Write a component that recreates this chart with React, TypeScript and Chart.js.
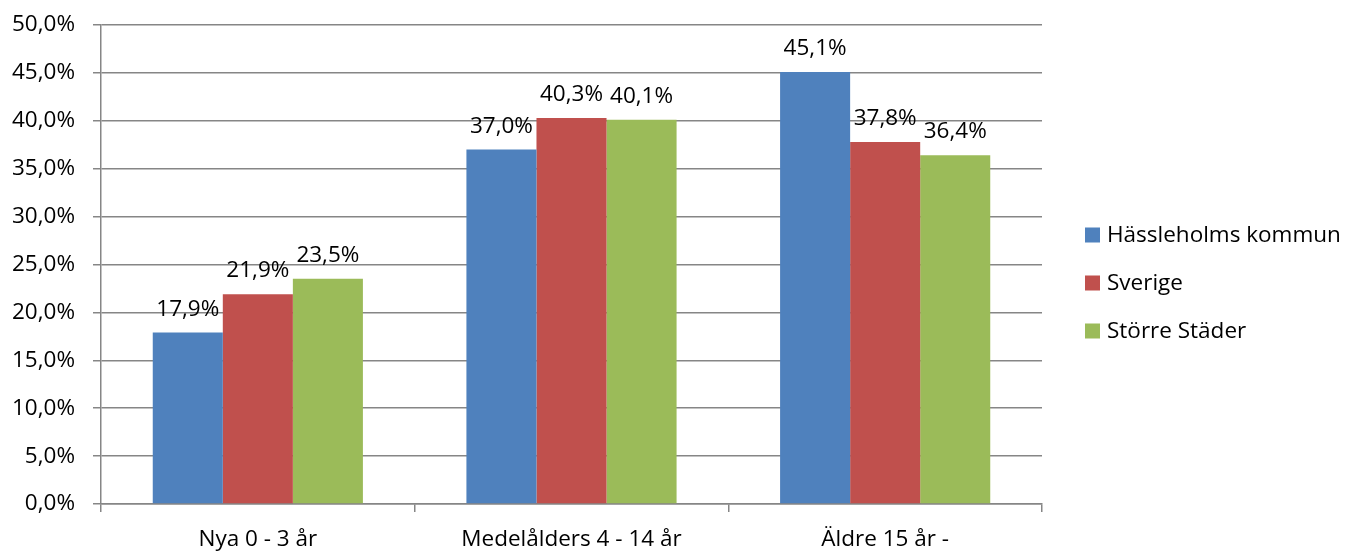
import React, { useEffect, useRef } from "react";
import { Chart, registerables } from "chart.js";

Chart.register(...registerables);

const categories = ["Nya 0 - 3 år", "Medelålders 4 - 14 år", "Äldre 15 år -"];
const seriesNames = ["Hässleholms kommun", "Sverige", "Större Städer"];
const hassleholm = [17.9, 37.0, 45.1];
const sverige = [21.9, 40.3, 37.8];
const storreStader = [23.5, 40.1, 36.4];
const seriesColors = ["#4F81BD", "#C0504D", "#9BBB59"];

const FONT = "'Open Sans', sans-serif";
const FS = 22.5;
const fmt = (v: number) => v.toFixed(1).replace(".", ",") + "%";

const labelPlugin = {
  id: "barLabels",
  afterDatasetsDraw(chart: any) {
    const ctx = chart.ctx;
    ctx.save();
    ctx.font = `${FS}px ${FONT}`;
    ctx.fillStyle = "#000";
    ctx.textAlign = "center";
    ctx.textBaseline = "alphabetic";
    chart.data.datasets.forEach((ds: any, i: number) => {
      const meta = chart.getDatasetMeta(i);
      meta.data.forEach((bar: any, j: number) => {
        ctx.fillText(fmt(ds.data[j]), bar.x, bar.y - 17);
      });
    });
    ctx.restore();
  },
};

const legendPlugin = {
  id: "customLegend",
  afterDraw(chart: any) {
    const ctx = chart.ctx;
    ctx.save();
    ctx.font = `${FS}px ${FONT}`;
    ctx.textBaseline = "middle";
    ctx.textAlign = "left";
    chart.data.datasets.forEach((ds: any, i: number) => {
      const cy = 235 + i * 48;
      ctx.fillStyle = ds.backgroundColor;
      ctx.fillRect(1085, cy - 7.5, 15, 15);
      ctx.fillStyle = "#000";
      ctx.fillText(ds.label, 1107, cy + 1);
    });
    ctx.restore();
  },
};

export default function App() {
  const ref = useRef<HTMLCanvasElement>(null);
  useEffect(() => {
    if (!ref.current) return;
    const data = [hassleholm, sverige, storreStader];
    const chart = new Chart(ref.current, {
      type: "bar",
      data: {
        labels: categories,
        datasets: seriesNames.map((name, i) => ({
          label: name,
          data: data[i],
          backgroundColor: seriesColors[i],
          borderWidth: 0,
          categoryPercentage: 0.67,
          barPercentage: 1,
        })),
      },
      options: {
        responsive: false,
        animation: false,
        layout: { padding: { top: 25, right: 305, bottom: 0, left: 0 } },
        plugins: { legend: { display: false }, tooltip: { enabled: false } },
        scales: {
          x: {
            offset: true,
            grid: {
              offset: true,
              drawOnChartArea: false,
              drawTicks: true,
              tickLength: 8,
              color: "#868686",
              lineWidth: 1.5,
            },
            border: { color: "#868686", width: 1.5 },
            ticks: {
              color: "#000",
              font: { family: FONT, size: FS },
              padding: 14,
              maxRotation: 0,
            },
            afterFit: (s: any) => {
              s.height = 48;
              s.paddingLeft = 0;
              s.paddingRight = 0;
            },
          },
          y: {
            min: 0,
            max: 50,
            ticks: {
              stepSize: 5,
              color: "#000",
              font: { family: FONT, size: FS },
              padding: 18,
              callback: (v: any) => fmt(Number(v)),
            },
            grid: { color: "#868686", lineWidth: 1.5, tickLength: 8 },
            border: { color: "#868686", width: 1.5 },
            afterFit: (s: any) => {
              s.width = 101;
              s.paddingTop = 0;
              s.paddingBottom = 0;
            },
          },
        },
      },
      plugins: [labelPlugin, legendPlugin],
    });
    return () => chart.destroy();
  }, []);
  return (
    <div style={{ position: "absolute", left: 0, top: 0, width: 1347, height: 552, background: "#fff" }}>
      <canvas ref={ref} width={1347} height={552} />
    </div>
  );
}
